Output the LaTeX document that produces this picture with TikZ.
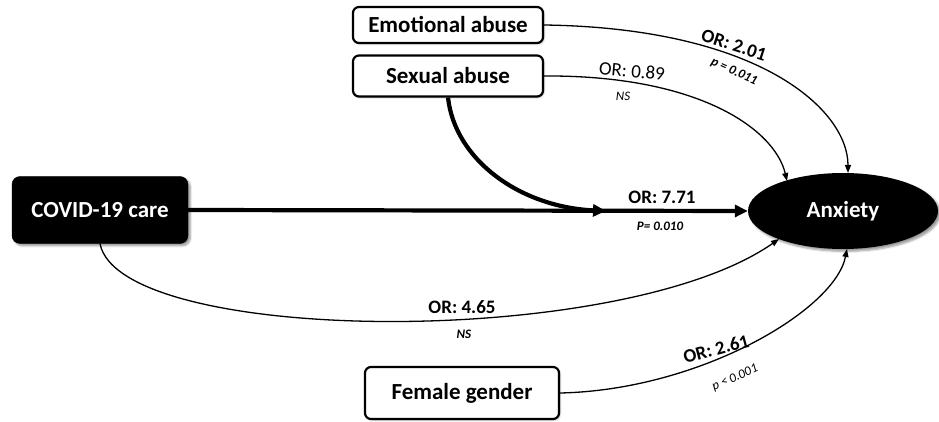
\documentclass[tikz,border=0pt]{standalone}
\usepackage{fontspec}
\setmainfont{Carlito}
\usetikzlibrary{arrows.meta,shapes.geometric,shadows.blur}
\begin{document}
\begin{tikzpicture}[x=1pt,y=-1pt,
  wbox/.style={draw,line width=2.2pt,rounded corners=6pt,fill=white,minimum width=190pt,font=\fontsize{23}{26}\selectfont\bfseries,blur shadow={shadow blur steps=5,shadow xshift=1pt,shadow yshift=-1pt,shadow opacity=30}},
  thin/.style={line width=1.3pt,-{Triangle[length=8pt,width=6pt]}},
  thick/.style={line width=4.2pt,-{Triangle[length=13pt,width=12pt]}},
  orb/.style={font=\fontsize{19}{21}\selectfont\bfseries,inner sep=0pt},
  orn/.style={font=\fontsize{19}{21}\selectfont,inner sep=0pt},
  pv/.style={font=\fontsize{13}{15}\selectfont\bfseries\itshape,inner sep=0pt},
  pvn/.style={font=\fontsize{13}{15}\selectfont\itshape,inner sep=0pt}]
\useasboundingbox (0,0) rectangle (939,422);
\node[wbox,minimum height=36pt] (ea) at (448,25) {Emotional abuse};
\node[wbox,minimum height=41pt] (sa) at (448,76) {Sexual abuse};
\node[wbox,minimum height=52pt,minimum width=194pt] (fg) at (462,393) {Female gender};
\node[draw,fill=black,rounded corners=8pt,minimum width=176pt,minimum height=67pt,text=white,font=\fontsize{23}{26}\selectfont\bfseries,blur shadow={shadow blur steps=5,shadow opacity=40}] (cv) at (100,210) {COVID-19 care};
\node[ellipse,fill=black,minimum width=190pt,minimum height=76pt,inner sep=0pt,text=white,font=\fontsize{23}{26}\selectfont\bfseries,blur shadow={shadow blur steps=5,shadow opacity=40}] (ax) at (843,211) {\raisebox{-2pt}{Anxiety}};
\coordinate (m) at (606,211);
% main thick line
\draw[thick] (cv.east) -- (ax.west);
\draw[thick] (sa.south) .. controls (455,160) and (520,207) .. (m);
\node[orb] (l771) at (662,197) {OR: 7.71};
\node[pv] (p771) at (660,226) {P= 0.010};
% emotional
\draw[thin] (ea.east) .. controls (760,28) and (848,110) .. (848,173);
\node[orb,rotate=-18] (l201) at (734,45) {OR: 2.01};
\node[pv,rotate=-24] (p201) at (734,72) {p = 0.011};
% sexual thin
\draw[thin] (sa.east) .. controls (700,75) and (775,130) .. (787,181);
\node[orn,rotate=-5] (l089) at (632,71) {OR: 0.89};
\node[pvn] (p089) at (623,96) {NS};
% covid lower
\draw[thin] (cv.south) .. controls (120,345) and (620,350) .. (779,239);
\node[orb] (l465) at (462,307) {OR: 4.65};
\node[pv] (p465) at (464,334) {NS};
% female
\draw[thin] (fg.east) .. controls (700,390) and (835,310) .. (847,249);
\node[orb,rotate=15] (l261) at (716,349) {OR: 2.61};
\node[pvn,rotate=24] (p261) at (735,378) {p < 0.001};
\end{tikzpicture}
\end{document}
